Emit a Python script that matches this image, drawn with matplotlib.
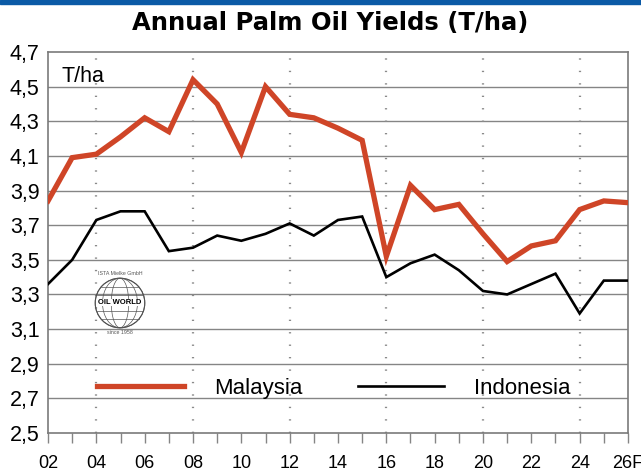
"""
Annual palm oil yields (T/ha), Malaysia vs Indonesia, 2002-2026F.
"""

import matplotlib
matplotlib.use("Agg")
import matplotlib.pyplot as plt
from matplotlib.patches import Rectangle, Circle, Ellipse

plt.rcParams["font.family"] = ["Liberation Sans", "DejaVu Sans"]

RED = "#cf4527"
BLACK = "#000000"
GRID = "#858585"
BLUE = "#0b5aa6"

years = list(range(2, 27))
malaysia = [3.84, 4.09, 4.11, 4.21, 4.32, 4.24, 4.54, 4.40, 4.12, 4.50,
            4.34, 4.32, 4.26, 4.19, 3.52, 3.93, 3.79, 3.82, 3.65, 3.49,
            3.58, 3.61, 3.79, 3.84, 3.83]
indonesia = [3.36, 3.50, 3.73, 3.78, 3.78, 3.55, 3.57, 3.64, 3.61, 3.65,
             3.71, 3.64, 3.73, 3.75, 3.40, 3.48, 3.53, 3.44, 3.32, 3.30,
             3.36, 3.42, 3.19, 3.38, 3.38]
xtick_pos = list(range(2, 27, 2))
xtick_labels = ["02", "04", "06", "08", "10", "12", "14", "16", "18", "20",
                "22", "24", "26F"]
ytick_pos = [2.5, 2.7, 2.9, 3.1, 3.3, 3.5, 3.7, 3.9, 4.1, 4.3, 4.5, 4.7]


def main():
    fig = plt.figure(figsize=(6.41, 4.71), dpi=100)
    fig.patch.set_facecolor("white")
    ax = fig.add_axes([0.0749, 0.0807, 0.9048, 0.8089])

    # blue rule across the top
    fig.patches.append(Rectangle((0, 1 - 4 / 471), 1, 4 / 471,
                                 transform=fig.transFigure, color=BLUE,
                                 zorder=0))

    # grid
    for y in ytick_pos[1:-1]:
        ax.axhline(y, color=GRID, linewidth=1.0, zorder=1)
    for x in range(4, 26, 4):
        ax.axvline(x, color="#8a8a8a", linewidth=1.6,
                   linestyle=(0, (0.6, 5.0)), zorder=1)

    ax.plot(years, indonesia, color=BLACK, linewidth=1.9, zorder=3,
            label="Indonesia", solid_joinstyle="miter")
    ax.plot(years, malaysia, color=RED, linewidth=3.8, zorder=4,
            label="Malaysia", solid_joinstyle="miter")

    ax.set_xlim(2, 26)
    ax.set_ylim(2.5, 4.7)
    ax.set_xticks(xtick_pos)
    ax.set_xticklabels(xtick_labels)
    ax.set_xticks(years, minor=True)
    ax.set_yticks(ytick_pos)
    ax.set_yticklabels([f"{v:.1f}".replace(".", ",") for v in ytick_pos])
    ax.tick_params(axis="x", which="both", direction="out", length=7,
                   width=1.0, color=GRID, labelsize=13, pad=9)
    ax.tick_params(axis="y", length=0, labelsize=15.5, pad=6)
    for s in ax.spines.values():
        s.set_color("#7a7a7a")
        s.set_linewidth(1.2)

    ax.text(0.024, 0.937, "T/ha", transform=ax.transAxes, fontsize=15.5,
            va="center", ha="left")

    handles, labels = ax.get_legend_handles_labels()
    ax.legend(handles[::-1], labels[::-1], ncol=2, frameon=False,
              fontsize=16, handlelength=3.9, handletextpad=1.35,
              columnspacing=2.5, loc="center left",
              bbox_to_anchor=(0.05, 0.118))

    # OIL WORLD logo
    lax = fig.add_axes([120 / 641 - 0.0546, 1 - 303 / 471 - 0.0743,
                        0.1092, 0.1486])
    lax.set_xlim(-1.2, 1.2)
    lax.set_ylim(-1.2, 1.2)
    lax.set_aspect("equal")
    lax.axis("off")
    lax.add_patch(Circle((0, 0), 0.85, fill=False, color="#444444", lw=0.8))
    for w in (0.3, 0.6, 0.85):
        lax.add_patch(Ellipse((0, 0), 2 * w, 1.7, fill=False,
                              color="#555555", lw=0.5))
    for h in (-0.55, -0.28, 0.28, 0.55):
        half = (0.85 ** 2 - h ** 2) ** 0.5
        lax.plot([-half, half], [h, h], color="#555555", lw=0.5)
    lax.text(0, 0.02, "OIL WORLD", ha="center", va="center", fontsize=5.5,
             fontweight="bold",
             bbox=dict(facecolor="white", edgecolor="none", pad=0.3))
    lax.text(0, 1.02, "ISTA Mielke GmbH", ha="center", va="center",
             fontsize=3.8, color="#555555")
    lax.text(0, -1.02, "since 1958", ha="center", va="center",
             fontsize=3.8, color="#555555")

    fig.text(0.515, 1 - 23 / 471, "Annual Palm Oil Yields (T/ha)",
             ha="center", va="center", fontsize=17.5, fontweight="bold",
             family="DejaVu Sans")

    fig.savefig("out.png", dpi=100, facecolor="white")


if __name__ == "__main__":
    main()
